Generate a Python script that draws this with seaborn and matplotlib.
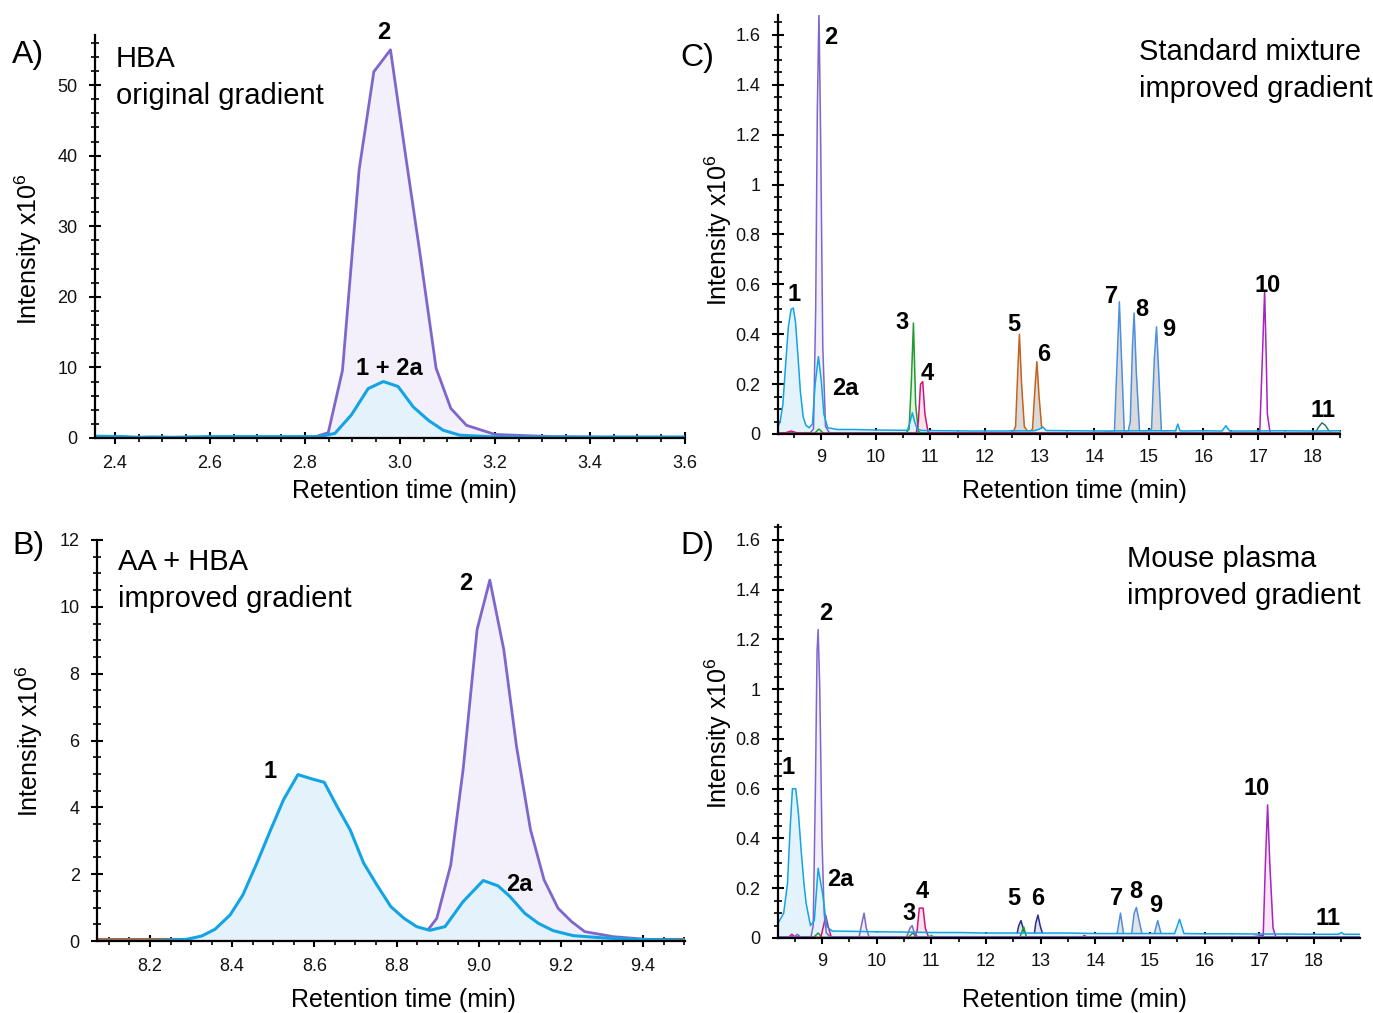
import matplotlib
matplotlib.use("Agg")
import matplotlib.pyplot as plt
from matplotlib.ticker import MultipleLocator, FormatStrFormatter
import seaborn as sns

# ---------------- data ----------------
# retention time (min) / intensity (x10^6)

# A) HBA, original gradient
a_t_purple = [2.36, 2.5, 2.7, 2.818, 2.849, 2.879, 2.914, 2.945, 2.980, 3.011, 3.042,
              3.076, 3.107, 3.140, 3.20, 3.32, 3.45, 3.6]
a_i_purple = [0.0, 0.0, 0.0, 0.1, 0.75, 9.6, 38.0, 51.9, 55.0, 40.4, 26.2,
              9.9, 4.2, 1.8, 0.5, 0.2, 0.05, 0.0]
a_t_cyan = [2.36, 2.42, 2.45, 2.48, 2.52, 2.6, 2.7, 2.8, 2.83, 2.863, 2.898, 2.933,
            2.965, 2.996, 3.028, 3.060, 3.091, 3.126, 3.2, 3.4, 3.6]
a_i_cyan = [0.25, 0.2, 0.1, 0.15, 0.1, 0.2, 0.2, 0.2, 0.2, 0.65, 3.3, 7.0,
            8.0, 7.3, 4.4, 2.5, 1.1, 0.4, 0.15, 0.15, 0.15]
a_t_base = [2.36, 3.6]
a_i_base = [0.0, 0.0]

# B) AA + HBA, improved gradient
b_t_cyan = [8.07, 8.2, 8.289, 8.326, 8.358, 8.395, 8.426, 8.46, 8.492, 8.525, 8.56,
            8.594, 8.624, 8.655, 8.687, 8.72, 8.752, 8.786, 8.818, 8.849, 8.881,
            8.918, 8.962, 9.011, 9.047, 9.076, 9.112, 9.145, 9.181, 9.23, 9.295,
            9.37, 9.5]
b_i_cyan = [0.0, 0.0, 0.05, 0.15, 0.35, 0.78, 1.38, 2.33, 3.28, 4.23, 4.98,
            4.85, 4.75, 4.03, 3.33, 2.33, 1.68, 1.03, 0.68, 0.43, 0.32,
            0.43, 1.18, 1.81, 1.65, 1.33, 0.83, 0.53, 0.31, 0.16, 0.10,
            0.05, 0.02]
b_t_purple = [8.07, 8.8, 8.833, 8.865, 8.898, 8.932, 8.962, 8.996, 9.027, 9.061,
              9.092, 9.126, 9.159, 9.193, 9.226, 9.258, 9.327, 9.408, 9.5]
b_i_purple = [0.0, 0.0, 0.05, 0.15, 0.68, 2.28, 5.13, 9.32, 10.8, 8.72,
              5.82, 3.33, 1.83, 0.98, 0.58, 0.28, 0.13, 0.05, 0.02]
b_t_orange = [8.07, 9.5]
b_i_orange = [0.05, 0.05]
b_t_magenta = [8.9, 9.5]
b_i_magenta = [0.0, 0.0]

# C) standard mixture, improved gradient
c_t_cyan = [8.21, 8.25, 8.30, 8.35, 8.40, 8.45, 8.49, 8.53, 8.57, 8.62, 8.67, 8.72,
            8.78, 8.84, 8.89, 8.95, 9.00, 9.05, 9.12, 9.3, 9.6, 10.0, 10.4, 10.58,
            10.63, 10.67, 10.71, 10.76, 10.85, 11.3, 11.8, 12.3, 12.9, 13.0, 13.06,
            13.12, 13.6, 14.2, 14.8, 15.4, 15.49, 15.53, 15.57, 15.65, 16.0, 16.34,
            16.41, 16.48, 16.8, 17.4, 18.0, 18.5]
c_i_cyan = [0.03, 0.05, 0.12, 0.28, 0.43, 0.50, 0.505, 0.45, 0.33, 0.17, 0.07, 0.035,
            0.025, 0.04, 0.20, 0.31, 0.22, 0.08, 0.025, 0.018, 0.018, 0.016, 0.015, 0.015,
            0.05, 0.085, 0.05, 0.02, 0.014, 0.013, 0.012, 0.012, 0.013, 0.02, 0.028,
            0.014, 0.013, 0.012, 0.013, 0.013, 0.013, 0.04, 0.013, 0.012, 0.013, 0.012,
            0.033, 0.012, 0.012, 0.013, 0.012, 0.013]
c_t_purple = [8.21, 8.8, 8.86, 8.90, 8.93, 8.96, 8.99, 9.03, 9.08, 9.15, 18.5]
c_i_purple = [0.005, 0.005, 0.02, 0.5, 1.3, 1.69, 1.2, 0.35, 0.03, 0.005, 0.005]
c_t_green = [8.21, 8.88, 8.96, 9.04, 10.55, 10.61, 10.65, 10.69, 10.73, 10.78, 10.85, 18.5]
c_i_green = [0.003, 0.003, 0.02, 0.003, 0.003, 0.02, 0.2, 0.445, 0.12, 0.01, 0.003, 0.003]
c_t_magenta = [8.21, 8.35, 8.45, 8.55, 8.7, 10.74, 10.78, 10.82, 10.86, 10.9, 10.96, 18.5]
c_i_magenta = [0.003, 0.005, 0.012, 0.005, 0.003, 0.003, 0.05, 0.2, 0.21, 0.08, 0.005, 0.003]
c_t_orange = [10.5, 12.5, 12.56, 12.6, 12.63, 12.67, 12.72, 12.8, 12.87, 12.92, 12.95,
              12.99, 13.04, 13.1, 13.3]
c_i_orange = [0.0, 0.0, 0.03, 0.25, 0.40, 0.2, 0.03, 0.005, 0.02, 0.2, 0.29,
              0.15, 0.02, 0.0, 0.0]
c_t_blue = [14.2, 14.37, 14.42, 14.46, 14.5, 14.55, 14.62, 14.66, 14.70, 14.73, 14.77,
            14.83, 14.95, 15.05, 15.1, 15.14, 15.18, 15.23, 15.35]
c_i_blue = [0.01, 0.01, 0.3, 0.53, 0.3, 0.01, 0.01, 0.05, 0.35, 0.485, 0.25,
            0.01, 0.01, 0.02, 0.3, 0.43, 0.25, 0.01, 0.01]
c_t_violet = [16.5, 17.03, 17.07, 17.12, 17.15, 17.17, 17.22, 17.5]
c_i_violet = [0.003, 0.005, 0.25, 0.575, 0.3, 0.08, 0.005, 0.003]
c_t_teal = [8.21, 17.9, 18.05, 18.1, 18.17, 18.23, 18.3, 18.38, 18.5]
c_i_teal = [0.002, 0.002, 0.005, 0.025, 0.045, 0.035, 0.012, 0.002, 0.002]

# D) mouse plasma, improved gradient
d_t_cyan = [8.20, 8.25, 8.30, 8.37, 8.42, 8.46, 8.52, 8.57, 8.62, 8.67, 8.71, 8.79,
            8.86, 8.93, 9.01, 9.09, 9.19, 9.5, 10.0, 10.5, 11.0, 11.5, 12.0, 12.5,
            13.0, 13.5, 14.0, 14.5, 15.0, 15.45, 15.54, 15.62, 16.0, 16.5, 17.0,
            17.5, 18.0, 18.45, 18.5, 18.55, 18.84]
d_i_cyan = [0.06, 0.08, 0.10, 0.22, 0.45, 0.60, 0.60, 0.5, 0.35, 0.22, 0.14, 0.05,
            0.07, 0.28, 0.18, 0.045, 0.028, 0.027, 0.025, 0.024, 0.022, 0.022, 0.02, 0.02,
            0.02, 0.02, 0.018, 0.018, 0.018, 0.018, 0.075, 0.018, 0.017, 0.017, 0.016,
            0.016, 0.015, 0.015, 0.022, 0.015, 0.015]
d_t_purple = [8.2, 8.5, 8.55, 8.6, 8.8, 8.84, 8.88, 8.91, 8.93, 8.96, 9.0, 9.04, 9.08,
              9.15, 9.68, 9.73, 9.77, 9.81, 9.86, 10.55, 10.61, 10.65, 10.69, 10.75, 18.84]
d_i_purple = [0.005, 0.005, 0.015, 0.005, 0.005, 0.05, 0.6, 1.15, 1.24, 1.0, 0.4, 0.1, 0.02,
              0.005, 0.005, 0.06, 0.10, 0.04, 0.005, 0.005, 0.04, 0.05, 0.02, 0.005, 0.005]
d_t_magenta = [8.2, 8.4, 8.45, 8.5, 8.6, 8.98, 9.03, 9.07, 9.11, 9.17, 10.7, 10.74,
               10.78, 10.85, 10.89, 10.95, 13.75, 13.8, 13.85, 18.84]
d_i_magenta = [0.003, 0.005, 0.015, 0.005, 0.003, 0.003, 0.05, 0.09, 0.05, 0.003, 0.003, 0.03,
               0.12, 0.12, 0.04, 0.003, 0.003, 0.01, 0.003, 0.003]
d_t_green = [8.2, 8.85, 8.93, 9.0, 10.58, 10.66, 10.74, 10.95, 11.0, 11.05, 12.62,
             12.69, 12.74, 18.84]
d_i_green = [0.003, 0.003, 0.02, 0.003, 0.003, 0.02, 0.003, 0.003, 0.01, 0.003, 0.003,
             0.045, 0.003, 0.003]
d_t_navy = [12.45, 12.56, 12.6, 12.64, 12.69, 12.75, 12.88, 12.91, 12.95, 12.99, 13.05, 13.2]
d_i_navy = [0.005, 0.01, 0.05, 0.07, 0.03, 0.005, 0.01, 0.06, 0.092, 0.05, 0.005, 0.005]
d_t_blue = [8.2, 14.3, 14.4, 14.46, 14.52, 14.66, 14.71, 14.75, 14.8, 14.86, 15.07, 15.14,
            15.21, 15.3, 18.84]
d_i_blue = [0.01, 0.01, 0.02, 0.10, 0.01, 0.01, 0.1, 0.123, 0.07, 0.01, 0.01, 0.07,
            0.01, 0.01, 0.01]
d_t_violet = [16.8, 17.07, 17.11, 17.15, 17.19, 17.25, 17.3, 17.5]
d_i_violet = [0.003, 0.01, 0.3, 0.535, 0.3, 0.04, 0.005, 0.003]
d_t_teal = [8.2, 18.84]
d_i_teal = [0.003, 0.003]

# peak labels: text, time, intensity of the label baseline
a_labels = ["2", "1 + 2a"]
a_label_t = [2.966, 2.977]
a_label_i = [56.5, 8.9]
b_labels = ["1", "2", "2a"]
b_label_t = [8.492, 8.969, 9.098]
b_label_i = [4.89, 10.5, 1.5]
c_labels = ["1", "2", "2a", "3", "4", "5", "6", "7", "8", "9", "10", "11"]
c_label_t = [8.50, 9.17, 9.44, 10.48, 10.94, 12.53, 13.08, 14.31, 14.88, 15.36, 17.17, 18.18]
c_label_i = [0.533, 1.564, 0.156, 0.421, 0.217, 0.413, 0.293, 0.525, 0.473, 0.393, 0.569, 0.068]
d_labels = ["1", "2", "2a", "3", "4", "5", "6", "7", "8", "9", "10", "11"]
d_label_t = [8.38, 9.07, 9.33, 10.59, 10.83, 12.51, 12.95, 14.39, 14.74, 15.11, 16.95, 18.25]
d_label_i = [0.659, 1.278, 0.209, 0.072, 0.161, 0.133, 0.133, 0.133, 0.16, 0.105, 0.575, 0.052]

# ---------------- style ----------------
sns.set_style("ticks")
plt.rcParams["font.family"] = ["Liberation Sans", "DejaVu Sans"]
plt.rcParams["mathtext.fontset"] = "custom"
plt.rcParams["mathtext.rm"] = "Liberation Sans"
for key in ["text.color", "axes.labelcolor", "xtick.color", "ytick.color"]:
    plt.rcParams[key] = "black"

CYAN = "#12a4e4"
CYAN_FILL = "#e3f2fb"
PURPLE = "#7f66cc"
PURPLE_FILL = "#f3f0fb"
GREEN = "#1f9e2f"
MAGENTA = "#d0157c"
ORANGE = "#c8611a"
BLUE = "#4f8fe0"
VIOLET = "#a822c4"
TEAL = "#1b6f6f"
NAVY = "#2b2d8c"
GREY_FILL = "#dadada"

fig = plt.figure(figsize=(13.73, 10.13), dpi=100)
W, H = 1373.0, 1013.0


def px_axes(left, right, bottom, top):
    return fig.add_axes([left / W, 1 - bottom / H, (right - left) / W, (bottom - top) / H])


def trace(ax, t, y, color, lw, fill=None, z=2):
    if fill is not None:
        ax.fill_between(t, y, 0, color=fill, linewidth=0, zorder=z - 0.5)
    sns.lineplot(x=t, y=y, ax=ax, color=color, linewidth=lw, estimator=None,
                 sort=False, zorder=z)


def style(ax, xlim, ylim, xmaj, xmin, ymaj, ymin, xfmt, yfmt, xpad, ypad):
    ax.set_xlim(xlim)
    ax.set_ylim(ylim)
    sns.despine(ax=ax)
    for s in ["left", "bottom"]:
        ax.spines[s].set_linewidth(1.6)
        ax.spines[s].set_color("black")
        ax.spines[s].set_zorder(5)
    ax.xaxis.set_major_locator(MultipleLocator(xmaj))
    ax.xaxis.set_minor_locator(MultipleLocator(xmin))
    ax.yaxis.set_major_locator(MultipleLocator(ymaj))
    ax.yaxis.set_minor_locator(MultipleLocator(ymin))
    ax.xaxis.set_major_formatter(FormatStrFormatter(xfmt))
    ax.yaxis.set_major_formatter(FormatStrFormatter(yfmt))
    ax.tick_params(which="major", direction="inout", length=9, width=1.5,
                   labelsize=13, labelcolor="#111111")
    ax.tick_params(which="minor", direction="inout", length=6, width=1.2)
    ax.tick_params(axis="x", which="major", pad=xpad)
    ax.tick_params(axis="y", which="major", pad=ypad)
    ax.set_xlabel("Retention time (min)", fontsize=18)
    ax.set_ylabel("Intensity x10$^{\\mathregular{6}}$", fontsize=18)


def peak_labels(ax, labels, ts, ys):
    for lab, t, y in zip(labels, ts, ys):
        ax.text(t, y, lab, ha="center", va="baseline", fontsize=17,
                fontweight="bold", clip_on=False, zorder=6)


def panel_text(ax, x, y, s):
    ax.text(x, y, s, transform=ax.transAxes, ha="left", va="top",
            fontsize=21, linespacing=1.42)


# ---------------- A ----------------
axA = px_axes(95, 685, 438, 35)
trace(axA, a_t_purple, a_i_purple, PURPLE, 2.0, PURPLE_FILL, z=2)
trace(axA, a_t_cyan, a_i_cyan, CYAN, 2.2, CYAN_FILL, z=3)
trace(axA, a_t_base, a_i_base, "#b0307a", 1.2, z=1.5)
style(axA, (2.358, 3.6), (0, 57.1), 0.2, 0.05, 10, 2, "%.1f", "%g", 8, 8)
peak_labels(axA, a_labels, a_label_t, a_label_i)
panel_text(axA, 0.035, 0.975, "HBA\noriginal gradient")
axA.yaxis.set_label_coords(-0.086, 0.469)
axA.xaxis.set_label_coords(0.524, -0.102)

# ---------------- B ----------------
axB = px_axes(97, 685, 941, 540)
trace(axB, b_t_purple, b_i_purple, PURPLE, 2.0, PURPLE_FILL, z=2)
trace(axB, b_t_cyan, b_i_cyan, CYAN, 2.2, CYAN_FILL, z=3)
trace(axB, b_t_orange, b_i_orange, ORANGE, 1.5, z=1.5)
trace(axB, b_t_magenta, b_i_magenta, "#a020a0", 1.5, z=1.6)
style(axB, (8.071, 9.502), (0, 12), 0.2, 0.05, 2, 0.5, "%.1f", "%g", 8, 8)
peak_labels(axB, b_labels, b_label_t, b_label_i)
panel_text(axB, 0.036, 0.98, "AA + HBA\nimproved gradient")
axB.yaxis.set_label_coords(-0.088, 0.499)
axB.xaxis.set_label_coords(0.522, -0.117)

# ---------------- C ----------------
axC = px_axes(778, 1340, 434, 15)
trace(axC, c_t_teal, c_i_teal, TEAL, 1.0, z=2)
trace(axC, c_t_orange, c_i_orange, ORANGE, 1.1, GREY_FILL, z=2.1)
trace(axC, c_t_blue, c_i_blue, BLUE, 1.1, GREY_FILL, z=2.2)
trace(axC, c_t_violet, c_i_violet, VIOLET, 1.1, z=2.3)
trace(axC, c_t_purple, c_i_purple, PURPLE, 1.1, PURPLE_FILL, z=2.4)
trace(axC, c_t_green, c_i_green, GREEN, 1.1, "#e4f4e4", z=2.5)
trace(axC, c_t_magenta, c_i_magenta, MAGENTA, 1.1, "#f8e3ef", z=2.6)
trace(axC, c_t_cyan, c_i_cyan, CYAN, 1.1, CYAN_FILL, z=2.7)
style(axC, (8.21, 18.5), (0, 1.68), 1, 0.5, 0.2, 0.05, "%g", "%g", 6, 8)
peak_labels(axC, c_labels, c_label_t, c_label_i)
panel_text(axC, 0.643, 0.945, "Standard mixture\nimproved gradient")
axC.yaxis.set_label_coords(-0.078, 0.487)
axC.xaxis.set_label_coords(0.528, -0.108)

# ---------------- D ----------------
axD = px_axes(778, 1360, 938, 525)
trace(axD, d_t_teal, d_i_teal, TEAL, 1.8, z=2)
trace(axD, d_t_blue, d_i_blue, BLUE, 1.1, "#e4e4e4", z=2.1)
trace(axD, d_t_navy, d_i_navy, NAVY, 1.1, "#e4e4e4", z=2.2)
trace(axD, d_t_violet, d_i_violet, VIOLET, 1.1, "#fbe6f6", z=2.3)
trace(axD, d_t_green, d_i_green, GREEN, 1.1, z=2.4)
trace(axD, d_t_magenta, d_i_magenta, MAGENTA, 1.1, "#f8e3ef", z=2.5)
trace(axD, d_t_purple, d_i_purple, PURPLE, 1.1, PURPLE_FILL, z=2.6)
trace(axD, d_t_cyan, d_i_cyan, CYAN, 1.1, CYAN_FILL, z=2.7)
style(axD, (8.196, 18.84), (0, 1.66), 1, 0.5, 0.2, 0.05, "%g", "%g", 6, 8)
peak_labels(axD, d_labels, d_label_t, d_label_i)
panel_text(axD, 0.599, 0.952, "Mouse plasma\nimproved gradient")
axD.yaxis.set_label_coords(-0.076, 0.496)
axD.xaxis.set_label_coords(0.51, -0.12)

# panel letters
for letter, x, y in [("A)", 12, 63), ("B)", 12, 554), ("C)", 680, 66), ("D)", 680, 554)]:
    fig.text(x / W, 1 - y / H, letter, ha="left", va="baseline", fontsize=23)

fig.savefig("out.png", dpi=100)
